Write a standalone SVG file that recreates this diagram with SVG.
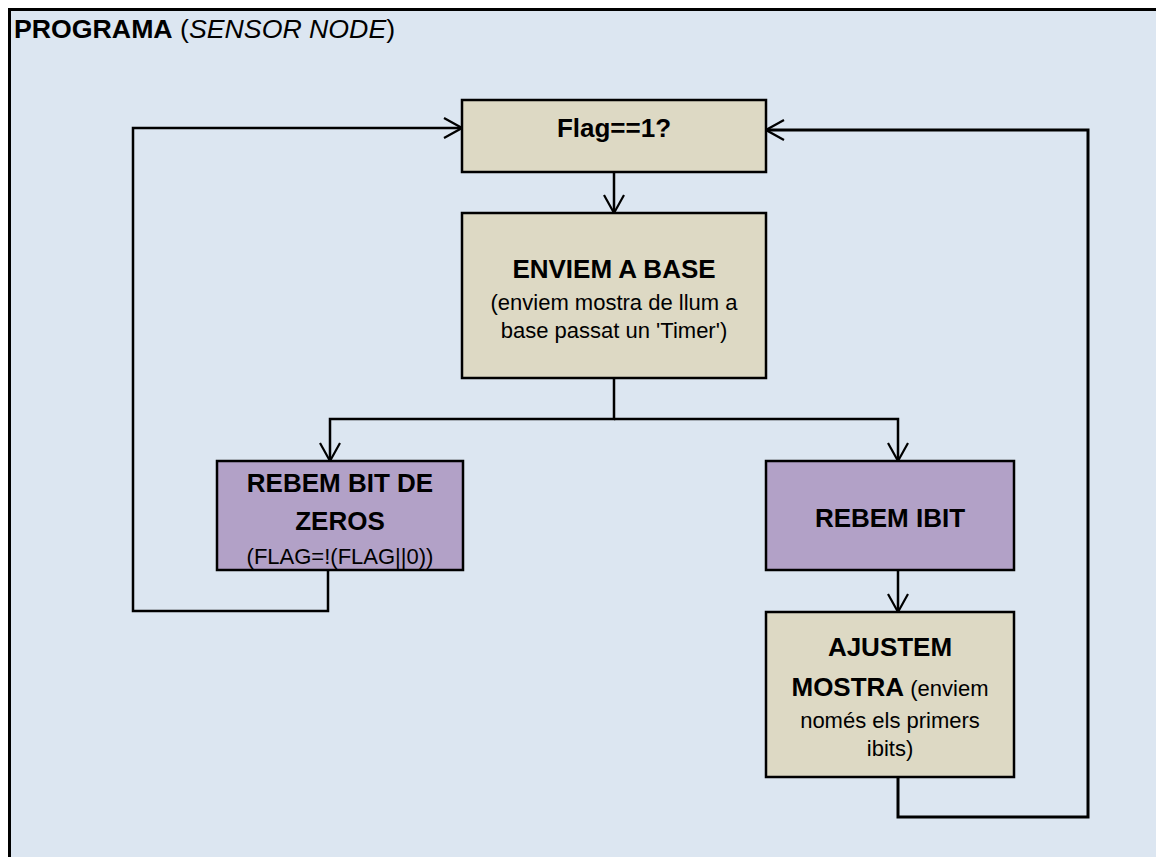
<svg xmlns="http://www.w3.org/2000/svg" width="1156" height="857" viewBox="0 0 1156 857">
<style>
.box{stroke:#000;stroke-width:2.5}
.tan{fill:#DDD9C4}
.pur{fill:#B2A1C7}
.conn{fill:none;stroke:#000;stroke-width:2.5}
text{font-family:"Liberation Sans",Arial,sans-serif;fill:#000;text-anchor:middle}
.b{font-weight:bold;font-size:26px}
.n{font-size:22px}
</style>
<defs>
<marker id="ah" markerUnits="userSpaceOnUse" viewBox="-20 -12 22 24" refX="0" refY="0" markerWidth="22" markerHeight="24" orient="auto">
<path d="M-18,-10 L0,0 L-18,10" fill="none" stroke="#000" stroke-width="2.2"/>
</marker>
</defs>
<rect x="9.5" y="9.5" width="1160" height="860" fill="#DCE6F1" stroke="#000" stroke-width="3"/>
<g id="title">
<text x="14" y="38" style="text-anchor:start;font-size:26.7px"><tspan font-weight="bold">PROGRAMA</tspan> (<tspan font-style="italic">SENSOR NODE</tspan>)</text>
</g>
<g id="connectors">
<path class="conn" d="M614,172 V213" marker-end="url(#ah)"/>
<path class="conn" d="M614,378 V419 H330 V461" marker-end="url(#ah)"/>
<path class="conn" d="M614,419 H898 V461" marker-end="url(#ah)"/>
<path class="conn" d="M898,570 V612" marker-end="url(#ah)"/>
<path class="conn" d="M328,570 V611 H133 V128 H462" marker-end="url(#ah)"/>
<path class="conn" d="M898,777 V817 H1088 V130 H766" marker-end="url(#ah)" style="stroke-width:3"/>
</g>
<g id="flag">
<rect class="box tan" x="462" y="100" width="304" height="72"/>
<text class="b" x="614" y="137">Flag==1?</text>
</g>
<g id="enviem">
<rect class="box tan" x="462" y="213" width="304" height="165"/>
<text class="b" x="614" y="278">ENVIEM A BASE</text>
<text class="n" x="614" y="310">(enviem mostra de llum a</text>
<text class="n" x="614" y="338">base passat un 'Timer')</text>
</g>
<g id="zeros">
<rect class="box pur" x="217" y="461" width="246" height="109"/>
<text class="b" x="340" y="492">REBEM BIT DE</text>
<text class="b" x="340" y="530">ZEROS</text>
<text class="n" x="340" y="564">(FLAG=!(FLAG||0))</text>
</g>
<g id="ibit">
<rect class="box pur" x="766" y="461" width="248" height="109"/>
<text class="b" x="890" y="527">REBEM IBIT</text>
</g>
<g id="ajustem">
<rect class="box tan" x="766" y="612" width="248" height="165"/>
<text class="b" x="890" y="656">AJUSTEM</text>
<text x="890" y="696"><tspan class="b">MOSTRA</tspan><tspan class="n"> (enviem</tspan></text>
<text class="n" x="890" y="728">només els primers</text>
<text class="n" x="890" y="756">ibits)</text>
</g>
</svg>
